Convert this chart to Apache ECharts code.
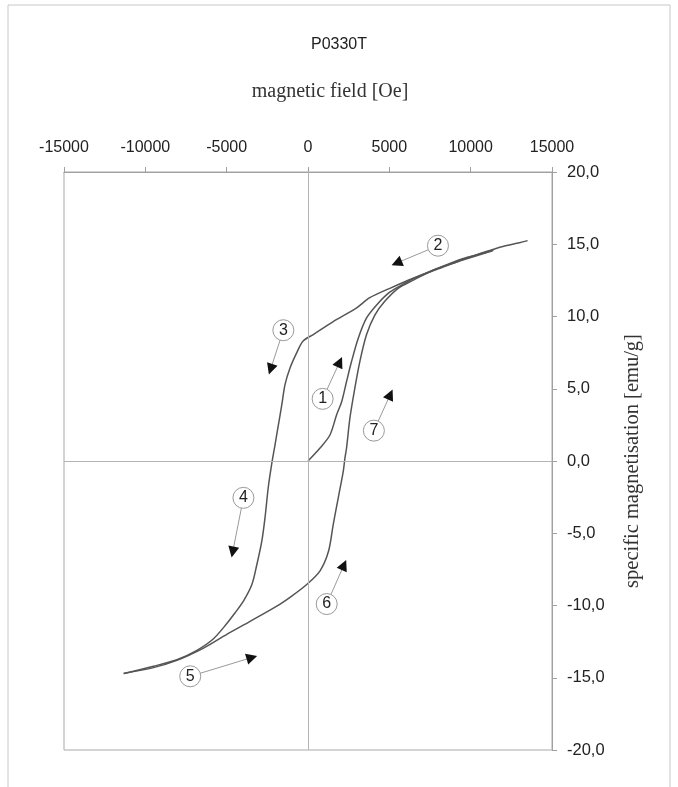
<!DOCTYPE html>
<html>
<head>
<meta charset="utf-8">
<script src="https://cdn.jsdelivr.net/npm/echarts@6/dist/echarts.min.js"></script>
<style>
  html, body { margin: 0; padding: 0; background: #fff; }
  #main { width: 678px; height: 787px; }
</style>
</head>
<body>
<div id="main"></div>
<script>
// axis ticks
var fieldTicks = [-15000, -10000, -5000, 0, 5000, 10000, 15000]
var magTicks = [-20, -15, -10, -5, 0, 5, 10, 15, 20]

// curve 1: virgin curve  [field Oe, magnetisation emu/g]
var initialCurve = [
  [0, 0], [740, 0.9], [1350, 1.8], [1760, 3.2], [2070, 4.1], [2370, 5.5],
  [2680, 6.9], [3090, 8.5], [3600, 9.9], [4220, 10.8], [4930, 11.6],
  [5640, 12.1], [6450, 12.6], [7900, 13.3], [9500, 14.0], [10500, 14.3], [11400, 14.6]
]
// curves 2-3-4: descending branch
var descCurve = [
  [13500, 15.25], [13000, 15.1], [11980, 14.85], [10960, 14.5], [9530, 13.95],
  [7900, 13.25], [6460, 12.65], [5030, 11.95], [3800, 11.3], [2990, 10.6],
  [1550, 9.65], [325, 8.75], [-300, 8.3], [-690, 7.5], [-1100, 6.45],
  [-1410, 5.3], [-1610, 3.9], [-1820, 2.5], [-2030, 1.1], [-2230, -0.2],
  [-2440, -1.8], [-2640, -3.9], [-2840, -5.55], [-3150, -7.2], [-3450, -8.55],
  [-3970, -9.7], [-4480, -10.5], [-4990, -11.25], [-5810, -12.3],
  [-6830, -13.1], [-8060, -13.75], [-9490, -14.2], [-11330, -14.7]
]
// curves 5-6-7: ascending branch
var ascCurve = [
  [-11330, -14.7], [-9500, -14.3], [-8060, -13.8], [-6420, -12.95],
  [-4990, -12.0], [-3560, -11.1], [-1920, -10.05], [-1000, -9.35],
  [-80, -8.55], [740, -7.6], [1260, -6.25], [1550, -4.4], [1860, -2.55],
  [2170, -0.7], [2270, 0.2], [2370, 0.9], [2580, 3.0], [2880, 5.05],
  [3190, 6.9], [3600, 8.75], [4110, 10.1], [4720, 11.05], [5540, 11.95],
  [6440, 12.5], [7910, 13.3], [9510, 13.9], [11350, 14.55]
]

// circled step numbers and arrow tips
var stepLabels = ['1', '2', '3', '4', '5', '6', '7']
var stepCircles = [
  [900, 4.3], [7990, 14.9], [-1515, 9.05], [-3970, -2.55],
  [-7240, -14.9], [1150, -9.9], [4050, 2.1]
]
var stepArrowTips = [
  [1950, 6.85], [5450, 13.7], [-2300, 6.35], [-4630, -6.3],
  [-3450, -13.6], [2210, -7.2], [5060, 4.6]
]

var chart = echarts.init(document.getElementById('main'))

var curveStyle = { color: '#555', width: 1.5 }
var sans = 'Liberation Sans, Arial, sans-serif'
var serif = 'Liberation Serif, Times New Roman, serif'

// thin grey shafts from circle to tip
var shafts = stepCircles.map(function (c, i) {
  return { coords: [c, stepArrowTips[i]] }
})
// tiny dark segment at the tip only to carry the black head
var heads = stepCircles.map(function (c, i) {
  var t = stepArrowTips[i]
  var p = [t[0] - (t[0] - c[0]) * 0.03, t[1] - (t[1] - c[1]) * 0.03]
  return { coords: [p, t] }
})
var circles = stepCircles.map(function (c, i) {
  return { value: c, name: stepLabels[i] }
})

var option = {
  backgroundColor: '#fff',
  animation: false,
  title: {
    text: 'P0330T',
    left: 306,
    top: 32,
    textStyle: { fontFamily: sans, fontSize: 16, fontWeight: 'normal', color: '#222' }
  },
  graphic: [{
    type: 'rect',
    shape: { x: 8, y: 5, width: 662, height: 800 },
    style: { fill: 'none', stroke: '#c8c8c8', lineWidth: 1 },
    silent: true
  }],
  grid: {
    left: 64, right: 126, top: 172, bottom: 37,
    show: true, borderColor: '#a8a8a8', borderWidth: 1
  },
  xAxis: {
    type: 'value',
    position: 'top',
    min: fieldTicks[0],
    max: fieldTicks[fieldTicks.length - 1],
    interval: 5000,
    name: 'magnetic field [Oe]',
    nameLocation: 'middle',
    nameGap: 70,
    nameTextStyle: { fontFamily: serif, fontSize: 20, color: '#333', padding: [0, 0, 0, 44] },
    axisLine: { onZero: false, lineStyle: { color: '#a0a0a0' } },
    axisTick: { length: 5, lineStyle: { color: '#a0a0a0' } },
    axisLabel: {
      fontFamily: sans, fontSize: 16, color: '#222', margin: 16,
      formatter: function (v) { return String(v) }
    },
    splitLine: { show: false }
  },
  yAxis: {
    type: 'value',
    position: 'right',
    min: magTicks[0],
    max: magTicks[magTicks.length - 1],
    interval: 5,
    name: 'specific magnetisation [emu/g]',
    nameLocation: 'middle',
    nameRotate: 90,
    nameGap: 70,
    nameTextStyle: { fontFamily: serif, fontSize: 20.5, color: '#333' },
    axisLine: { onZero: false, lineStyle: { color: '#a0a0a0' } },
    axisTick: { length: 5, lineStyle: { color: '#a0a0a0' } },
    axisLabel: {
      fontFamily: sans, fontSize: 16.5, color: '#222', margin: 15,
      formatter: function (v) { return v.toFixed(1).replace('.', ',') }
    },
    splitLine: { show: false }
  },
  series: [
    {
      type: 'line', data: initialCurve, showSymbol: false, smooth: 0.3, lineStyle: curveStyle, z: 3,
      markLine: {
        silent: true, symbol: 'none', label: { show: false },
        lineStyle: { color: '#b4b4b4', width: 1, type: 'solid' },
        data: [{ xAxis: 0 }, { yAxis: 0 }]
      }
    },
    { type: 'line', data: descCurve, showSymbol: false, smooth: 0.3, lineStyle: curveStyle, z: 3 },
    { type: 'line', data: ascCurve, showSymbol: false, smooth: 0.3, lineStyle: curveStyle, z: 3 },
    {
      type: 'lines',
      coordinateSystem: 'cartesian2d',
      data: shafts,
      symbol: 'none',
      lineStyle: { color: '#9a9a9a', width: 1, opacity: 1 },
      z: 4
    },
    {
      type: 'lines',
      coordinateSystem: 'cartesian2d',
      data: heads,
      symbol: ['none', 'triangle'],
      symbolSize: 11,
      lineStyle: { color: '#111', width: 1, opacity: 1 },
      z: 4
    },
    {
      type: 'scatter',
      data: circles,
      symbol: 'circle',
      symbolSize: 21,
      itemStyle: { color: '#fff', borderColor: '#999', borderWidth: 1, opacity: 1 },
      label: {
        show: true, position: 'inside', formatter: '{b}',
        fontFamily: sans, fontSize: 16, color: '#222'
      },
      z: 5
    }
  ]
}
chart.setOption(option)
</script>
</body>
</html>
